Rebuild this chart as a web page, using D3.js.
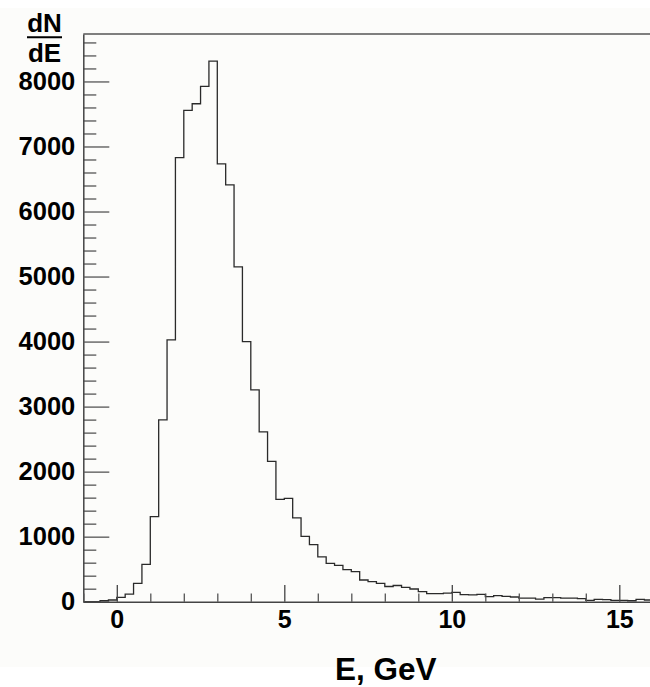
<!DOCTYPE html>
<html>
<head>
<meta charset="utf-8">
<script src="https://cdn.jsdelivr.net/npm/d3@7"></script>
<style>
  html, body { margin: 0; padding: 0; background: #ffffff; }
  svg { display: block; }
  text { font-family: "Liberation Sans", Arial, Helvetica, sans-serif; font-weight: bold; fill: #000; }
</style>
</head>
<body>
<svg id="chart" width="650" height="687"></svg>
<script>
// histogram of dN/dE, bins of 0.25 GeV from -1 to 16
const binStart = -1;
const binWidth = 0.25;
const counts = [
  0, 0, 15, 26, 65, 115, 283, 575,
  1308, 2795, 4026, 6830, 7554, 7657, 7923, 8314,
  6734, 6411, 5149, 4000, 3257, 2611, 2157, 1575,
  1590, 1288, 1006, 877, 688, 590, 559, 492,
  462, 334, 308, 283, 234, 249, 220, 195,
  154, 125, 125, 133, 144, 110, 105, 113,
  77, 92, 82, 72, 56, 56, 41, 62,
  62, 56, 56, 46, 21, 36, 31, 21,
  21, 15, 36, 26
];
const xMajorTicks = [0, 5, 10, 15];
const xMinorTicks = d3.range(-1, 17, 1).filter(v => !xMajorTicks.includes(v));
const yMajorTicks = [0, 1000, 2000, 3000, 4000, 5000, 6000, 7000, 8000];
const yMinorTicks = d3.range(200, 8800, 200).filter(v => v % 1000 !== 0);

const svg = d3.select("#chart");
const margin = { top: 34, left: 83.3, bottom: 601.7, right: 652.8 };

// off-white page area, as in the source picture
svg.append("rect")
  .attr("x", 0).attr("y", 8)
  .attr("width", 650).attr("height", 659)
  .attr("fill", "#fcfcfa");

const x = d3.scaleLinear()
  .domain([binStart, binStart + counts.length * binWidth])
  .range([margin.left, margin.right]);

const y = d3.scaleLinear()
  .domain([0, d3.max(counts) * 1.05])
  .range([margin.bottom, margin.top]);

// frame top and right
svg.append("path")
  .attr("d", `M${margin.left},${margin.top}H${margin.right}V${margin.bottom}`)
  .attr("fill", "none")
  .attr("stroke", "#555")
  .attr("stroke-width", 1.3);

// histogram outline
const stepPts = [[x(binStart), y(0)]];
counts.forEach((c, i) => {
  const x0 = binStart + i * binWidth;
  stepPts.push([x(x0), y(c)]);
  stepPts.push([x(x0 + binWidth), y(c)]);
});
stepPts.push([x(binStart + counts.length * binWidth), y(0)]);

svg.append("path")
  .attr("d", d3.line()(stepPts))
  .attr("fill", "none")
  .attr("stroke", "#2a2a2a")
  .attr("stroke-width", 1.3);

// y axis
svg.append("g")
  .attr("transform", `translate(${margin.left},0)`)
  .call(d3.axisLeft(y).tickValues(yMinorTicks).tickSize(-13).tickSizeOuter(0).tickFormat(""))
  .call(g => g.select(".domain").remove())
  .call(g => g.selectAll("line").attr("stroke", "#555").attr("stroke-width", 1.3));

svg.append("g")
  .attr("transform", `translate(${margin.left},0)`)
  .call(d3.axisLeft(y).tickValues(yMajorTicks).tickSize(-26).tickSizeOuter(0).tickPadding(8).tickFormat(d3.format("d")))
  .call(g => g.select(".domain").attr("stroke", "#444").attr("stroke-width", 1.5))
  .call(g => g.selectAll("line").attr("stroke", "#555").attr("stroke-width", 1.3))
  .call(g => g.selectAll("text")
    .attr("font-size", 25.5)
    .attr("font-family", "Liberation Sans, Arial, sans-serif")
    .attr("font-weight", "bold")
    .attr("fill", "#000"));

// x axis
svg.append("g")
  .attr("transform", `translate(0,${margin.bottom})`)
  .call(d3.axisBottom(x).tickValues(xMinorTicks).tickSize(-8.3).tickSizeOuter(0).tickFormat(""))
  .call(g => g.select(".domain").remove())
  .call(g => g.selectAll("line").attr("stroke", "#555").attr("stroke-width", 1.3));

svg.append("g")
  .attr("transform", `translate(0,${margin.bottom})`)
  .call(d3.axisBottom(x).tickValues(xMajorTicks).tickSize(-16.7).tickSizeOuter(0).tickPadding(9).tickFormat(d3.format("d")))
  .call(g => g.select(".domain").attr("stroke", "#444").attr("stroke-width", 1.5))
  .call(g => g.selectAll("line").attr("stroke", "#444").attr("stroke-width", 1.3))
  .call(g => g.selectAll("text")
    .attr("font-size", 25)
    .attr("font-family", "Liberation Sans, Arial, sans-serif")
    .attr("font-weight", "bold")
    .attr("fill", "#000"));

// axis titles
svg.append("text")
  .attr("x", 335).attr("y", 680)
  .attr("font-size", 31.5)
  .text("E, GeV");

const frac = svg.append("g").attr("transform", "translate(44.5,0)");
frac.append("text")
  .attr("x", 0).attr("y", 32)
  .attr("text-anchor", "middle")
  .attr("font-size", 26)
  .text("dN");
frac.append("line")
  .attr("x1", -17.5).attr("x2", 17.5)
  .attr("y1", 37.3).attr("y2", 37.3)
  .attr("stroke", "#000").attr("stroke-width", 2);
frac.append("text")
  .attr("x", 0).attr("y", 62)
  .attr("text-anchor", "middle")
  .attr("font-size", 26)
  .text("dE");
</script>
</body>
</html>
